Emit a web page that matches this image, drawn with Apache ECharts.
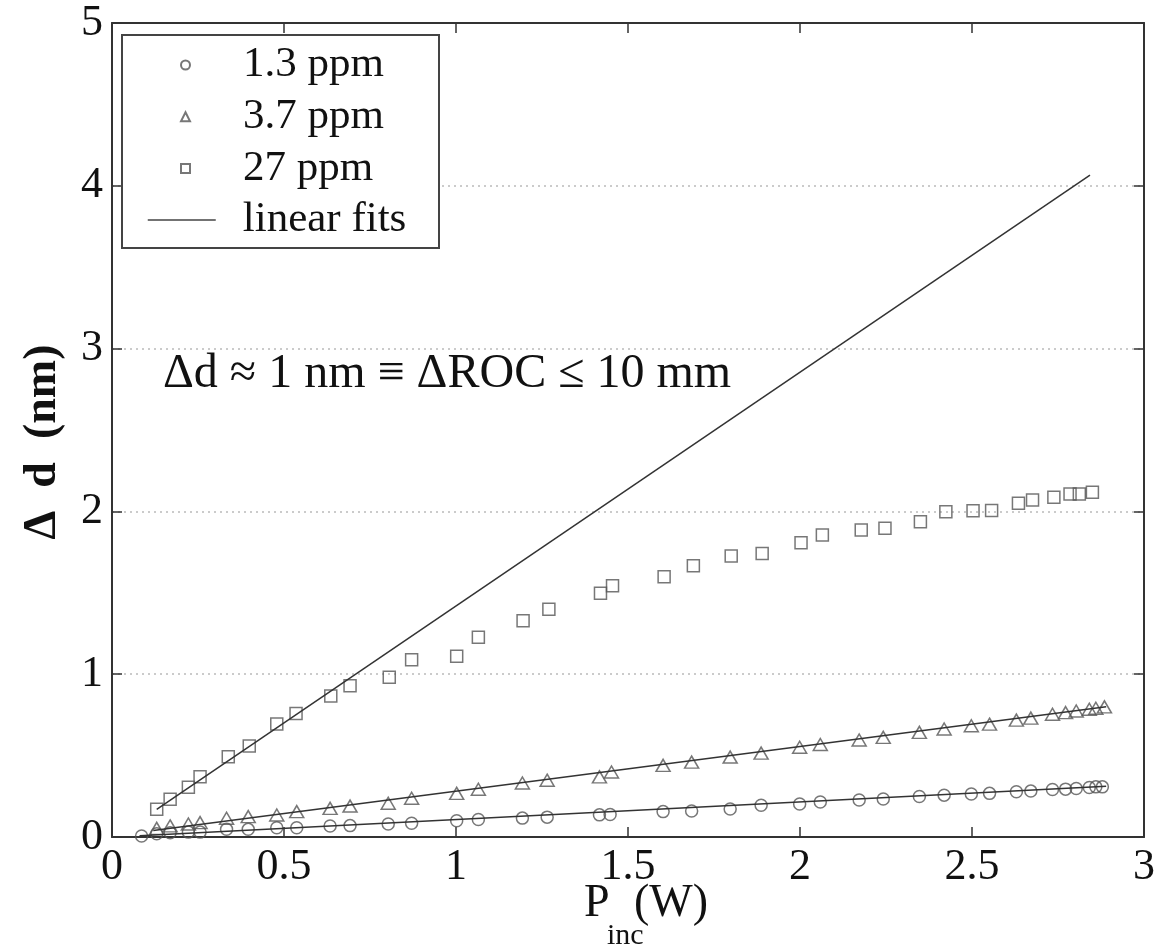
<!DOCTYPE html>
<html><head><meta charset="utf-8">
<script src="https://cdn.jsdelivr.net/npm/echarts@6/dist/echarts.min.js"></script>
<style>html,body{margin:0;padding:0;background:#fff}#c{width:1160px;height:946px}</style>
</head><body><div id="c"></div>
<script>
// ---- data ----
const seriesNames = ['1.3 ppm', '3.7 ppm', '27 ppm', 'linear fits'];
const circlesX = [0.086,0.130,0.169,0.222,0.256,0.333,0.396,0.479,0.537,0.634,0.692,0.803,0.871,1.002,1.065,1.193,1.265,1.417,1.448,1.602,1.685,1.797,1.887,1.999,2.059,2.172,2.242,2.347,2.419,2.498,2.551,2.629,2.671,2.734,2.772,2.803,2.841,2.860,2.879];
const circlesY = [0.006,0.020,0.026,0.030,0.030,0.047,0.047,0.057,0.057,0.068,0.070,0.080,0.084,0.100,0.108,0.116,0.122,0.136,0.138,0.156,0.160,0.172,0.195,0.203,0.215,0.227,0.233,0.249,0.257,0.264,0.268,0.278,0.282,0.292,0.294,0.298,0.304,0.308,0.308];
const trianglesX = [0.130,0.169,0.222,0.256,0.333,0.396,0.479,0.537,0.634,0.692,0.803,0.871,1.002,1.065,1.193,1.265,1.417,1.452,1.602,1.685,1.797,1.887,1.999,2.059,2.172,2.242,2.347,2.419,2.498,2.551,2.629,2.671,2.734,2.772,2.803,2.841,2.860,2.885];
const trianglesY = [0.053,0.068,0.080,0.088,0.115,0.125,0.135,0.156,0.176,0.190,0.207,0.238,0.268,0.293,0.332,0.349,0.369,0.399,0.440,0.460,0.491,0.515,0.551,0.568,0.596,0.612,0.643,0.663,0.683,0.693,0.718,0.730,0.754,0.764,0.774,0.785,0.791,0.799];
const squaresX = [0.130,0.169,0.222,0.256,0.338,0.399,0.479,0.535,0.636,0.692,0.806,0.871,1.002,1.065,1.195,1.270,1.420,1.455,1.605,1.690,1.800,1.890,2.003,2.065,2.178,2.247,2.350,2.424,2.503,2.557,2.635,2.676,2.738,2.785,2.812,2.850];
const squaresY = [0.170,0.232,0.305,0.370,0.493,0.559,0.694,0.759,0.866,0.929,0.981,1.088,1.110,1.227,1.329,1.399,1.497,1.544,1.599,1.666,1.726,1.742,1.808,1.855,1.886,1.896,1.937,1.998,2.004,2.006,2.050,2.070,2.087,2.107,2.107,2.118];
// linear fits: [start x, end x] and [start y, end y]
const fitCircleX = [0.08, 2.89],  fitCircleY = [0.008, 0.311];
const fitTriangleX = [0.12, 2.89], fitTriangleY = [0.04, 0.80];
const fitSquareX = [0.13, 2.843], fitSquareY = [0.17, 4.066];
const annotation = 'Δd ≈ 1 nm ≡ ΔROC ≤ 10 mm';
const xTitle = ['P', 'inc', '(W)'];   // P, subscript, unit
const yTitle = 'Δ  d  (nm)';

const zip = (xs, ys) => xs.map((x, i) => [x, ys[i]]);
const FONT = 'Liberation Serif';
const MARK = '#555';

const chart = echarts.init(document.getElementById('c'));
const markerStyle = { color: 'rgba(255,255,255,0)', borderColor: MARK, borderWidth: 1.5 };
const fitLine = (xs, ys) => ({
  type: 'line', name: seriesNames[3], data: zip(xs, ys), symbol: 'none',
  itemStyle: { color: '#333' },
  lineStyle: { color: '#333', width: 1.5 }, z: 3, silent: true, animation: false
});
const axisCommon = {
  axisLine: { show: true, onZero: false, lineStyle: { color: '#333', width: 2 } },
  axisTick: { show: true, inside: true, length: 10, lineStyle: { color: '#333', width: 1.5 } },
  splitLine: { show: false }
};
const legendText = { fontFamily: FONT, fontSize: 43, color: '#111', lineHeight: 44 };
chart.setOption({
  animation: false,
  backgroundColor: '#fff',
  grid: { left: 112, right: 16, top: 23, bottom: 109, outerBoundsMode: 'none', containLabel: false },
  xAxis: [
    Object.assign({ type: 'value', min: 0, max: 3, interval: 0.5, position: 'bottom',
      axisLabel: { fontFamily: FONT, fontSize: 44, color: '#111', margin: 8 }
    }, axisCommon),
    Object.assign({ type: 'value', min: 0, max: 3, interval: 0.5, position: 'top',
      axisLabel: { show: false } }, axisCommon)
  ],
  yAxis: [
    Object.assign({ type: 'value', min: 0, max: 5, interval: 1, position: 'left',
      axisLabel: { fontFamily: FONT, fontSize: 44, color: '#111', margin: 9 },
      name: yTitle, nameLocation: 'middle', nameGap: 46, nameRotate: 90,
      nameTextStyle: { fontFamily: FONT, fontSize: 46, fontWeight: 'bold', color: '#111', padding: [0, 24, 0, 0] }
    }, axisCommon, { splitLine: { show: true, lineStyle: { color: '#bbb', type: [2, 4], width: 1.5 } } }),
    Object.assign({ type: 'value', min: 0, max: 5, interval: 1, position: 'right',
      axisLabel: { show: false } }, axisCommon)
  ],
  legend: [{
    orient: 'vertical', left: 180, top: 43,
    data: seriesNames.slice(0, 3),
    itemWidth: 9, itemHeight: 9, itemGap: 7.7, padding: 0,
    textStyle: Object.assign({ padding: [0, 0, 0, 48] }, legendText),
    selectedMode: false, z: 5
  }, {
    orient: 'vertical', left: 147, top: 198,
    data: seriesNames.slice(3),
    itemWidth: 68, itemHeight: 10, padding: 0,
    itemStyle: { opacity: 0 },
    lineStyle: { color: '#444', width: 1.5 },
    textStyle: Object.assign({ padding: [0, 0, 0, 22] }, legendText),
    selectedMode: false, z: 5
  }],
  graphic: [{
    type: 'rect', left: 121, top: 34, z: 4,
    shape: { width: 317, height: 213 },
    style: { fill: '#fff', stroke: '#444', lineWidth: 2 }
  }, {
    type: 'text', left: 163, top: 350, z: 10,
    style: { text: annotation, font: '48px "Liberation Serif"', fill: '#111' }
  }, {
    type: 'text', x: 584, y: 904, z: 10,
    style: { text: xTitle[0], font: '46px "Liberation Serif"', fill: '#111', verticalAlign: 'middle' }
  }, {
    type: 'text', x: 607, y: 936, z: 10,
    style: { text: xTitle[1], font: '30px "Liberation Serif"', fill: '#111', verticalAlign: 'middle' }
  }, {
    type: 'text', x: 634, y: 904, z: 10,
    style: { text: xTitle[2], font: '46px "Liberation Serif"', fill: '#111', verticalAlign: 'middle' }
  }],
  series: [
    { type: 'scatter', name: seriesNames[0], data: zip(circlesX, circlesY), symbol: 'circle',
      symbolSize: 12, itemStyle: markerStyle, z: 2 },
    { type: 'scatter', name: seriesNames[1], data: zip(trianglesX, trianglesY), symbol: 'triangle',
      symbolSize: [14, 12], itemStyle: markerStyle, z: 2 },
    { type: 'scatter', name: seriesNames[2], data: zip(squaresX, squaresY), symbol: 'rect',
      symbolSize: 12, itemStyle: markerStyle, z: 2 },
    fitLine(fitCircleX, fitCircleY),
    fitLine(fitTriangleX, fitTriangleY),
    fitLine(fitSquareX, fitSquareY)
  ]
});
</script></body></html>
